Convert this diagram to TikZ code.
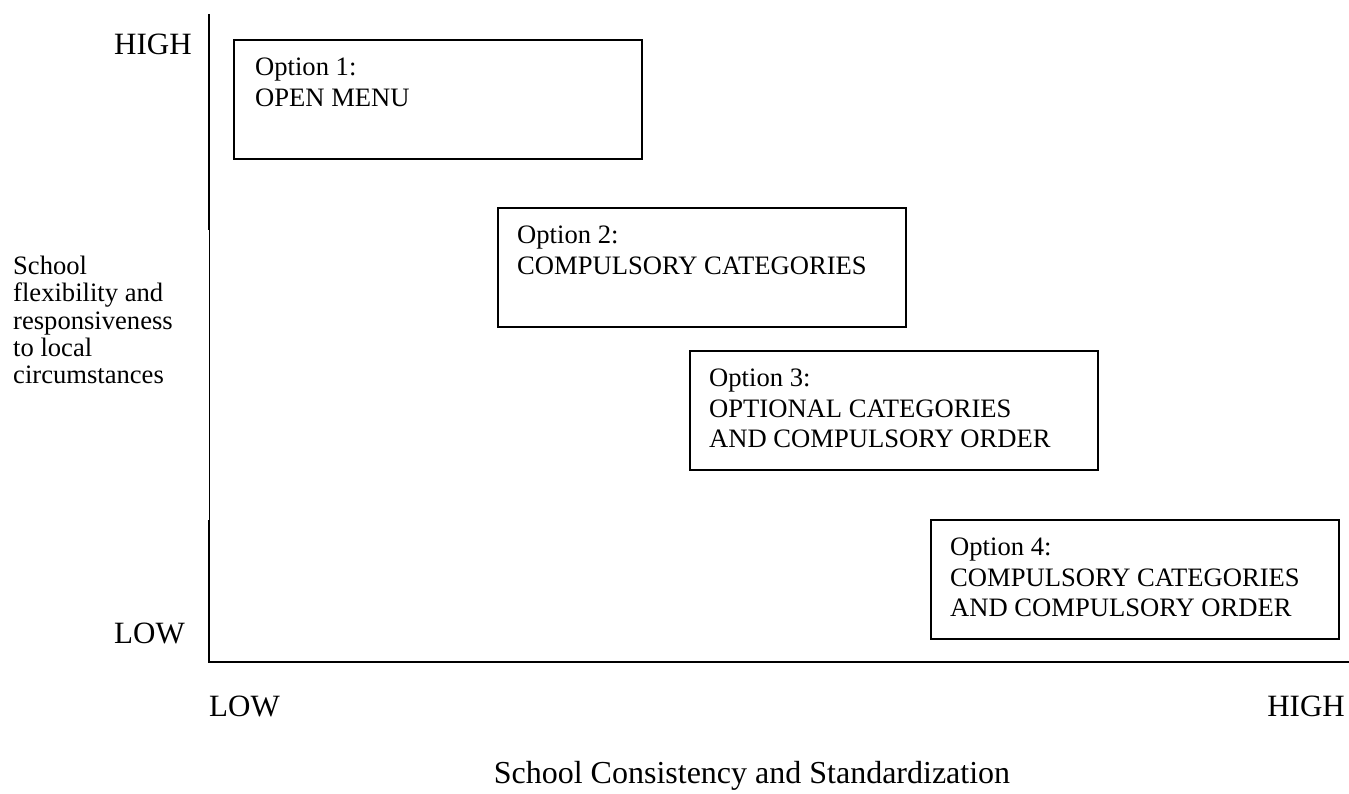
\documentclass[tikz,border=0pt]{standalone}
\usepackage{fontspec}
\setmainfont{Liberation Serif}
\usepackage{tikz}
\usetikzlibrary{positioning, calc}

\tikzset{
  optbox/.style={draw, line width=2pt, minimum width=408pt, minimum height=119pt, anchor=north west, inner sep=0pt},
  opttext/.style={anchor=north west, align=left, inner sep=0pt, font=\fontsize{26.6}{30.3}\selectfont},
  axlabel/.style={inner sep=0pt, font=\fontsize{31}{34}\selectfont}
}

\begin{document}
\begin{tikzpicture}[x=1pt, y=-1pt]
  \useasboundingbox (0,0) rectangle (1349,794);
  % Axes
  \coordinate (ytop) at (209,14);
  \coordinate (ygapA) at (209,230);
  \coordinate (ygapB) at (209,520);
  \coordinate (origin) at (209,662);
  \coordinate (xend) at (1349,662);
  \draw[line width=2pt] (ytop) -- (ygapA);
  \draw[line width=0.8pt] (ygapA) -- (ygapB);
  \draw[line width=2pt] (ygapB) -- (origin) -- (xend);
  % Axis labels
  \node[axlabel, anchor=base west] (yhigh) at (114,55) {HIGH};
  \node[axlabel, anchor=base west] (ylow) at (114,643) {LOW};
  \node[axlabel, anchor=base west] (xlow) at (209,716) {LOW};
  \node[axlabel, anchor=base east] (xhigh) at (1345,716) {HIGH};
  \node[axlabel, anchor=base, font=\fontsize{32}{35}\selectfont] (xtitle) at (752,783) {School Consistency and Standardization};
  \node[opttext, font=\fontsize{26.6}{27.3}\selectfont] (ytitle) at (13,256) {School\\flexibility and\\responsiveness\\to local\\circumstances};
  % Options
  \node[optbox] (opt1) at (233,39) {};
  \node[optbox] (opt2) at (497,207) {};
  \node[optbox] (opt3) at (689,350) {};
  \node[optbox] (opt4) at (930,519) {};
  \node[opttext] at ([shift={(22,19)}]opt1.north west) {Option 1:\\OPEN MENU};
  \node[opttext] at ([shift={(20,19)}]opt2.north west) {Option 2:\\COMPULSORY CATEGORIES};
  \node[opttext] at ([shift={(20,19)}]opt3.north west) {Option 3:\\OPTIONAL CATEGORIES\\AND COMPULSORY ORDER};
  \node[opttext] at ([shift={(20,19)}]opt4.north west) {Option 4:\\COMPULSORY CATEGORIES\\AND COMPULSORY ORDER};
\end{tikzpicture}
\end{document}
